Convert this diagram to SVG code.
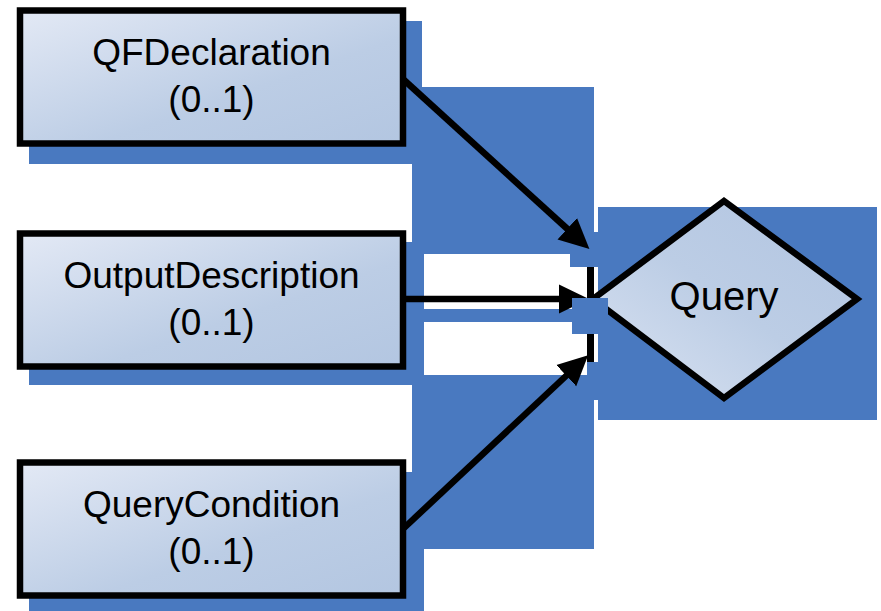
<svg xmlns="http://www.w3.org/2000/svg" width="881" height="611" viewBox="0 0 881 611">
  <defs>
    <linearGradient id="boxFill" x1="0" y1="0" x2="1" y2="1">
      <stop offset="0" stop-color="#e3e9f5"/>
      <stop offset="0.6" stop-color="#bccde5"/>
      <stop offset="1" stop-color="#b3c6e1"/>
    </linearGradient>
    <linearGradient id="diamondFill" x1="0" y1="1" x2="1" y2="0">
      <stop offset="0" stop-color="#dae3f2"/>
      <stop offset="0.5" stop-color="#bccde5"/>
      <stop offset="1" stop-color="#b2c5e1"/>
    </linearGradient>
    <marker id="arrow" markerUnits="userSpaceOnUse" markerWidth="32" markerHeight="32" viewBox="0 -16 32 32" refX="1" refY="0" orient="auto">
      <path d="M0,-14.5 L30,0 L0,14.5 z" fill="#000"/>
    </marker>
  </defs>
  <style>
    .shadow { fill: #4979c0; }
    .gap { fill: #ffffff; }
    .box { fill: url(#boxFill); stroke: #000; stroke-width: 6.5; }
    .diamond { fill: url(#diamondFill); stroke: #000; stroke-width: 6.5; stroke-linejoin: miter; }
    .label { font-family: "Liberation Sans", Arial, sans-serif; font-size: 37px; fill: #000; text-anchor: middle; }
    .title { font-family: "Liberation Sans", Arial, sans-serif; font-size: 40px; fill: #000; text-anchor: middle; }
    .edge { stroke: #000; stroke-width: 6.5; fill: none; marker-end: url(#arrow); }
    .bar { fill: #000; }
  </style>

  <rect width="881" height="611" fill="#ffffff"/>

  <!-- drop shadows -->
  <g id="shadows">
    <rect class="shadow" x="29" y="21" width="393" height="143"/>
    <rect class="shadow" x="29" y="242" width="393" height="143"/>
    <rect class="shadow" x="29" y="472" width="393" height="139"/>
    <rect class="shadow" x="412" y="87" width="182" height="462"/>
    <rect class="shadow" x="412" y="87" width="12" height="524"/>
    <rect class="shadow" x="570" y="232" width="28" height="35"/>
    <rect class="shadow" x="590" y="362" width="8" height="38"/>
    <rect class="shadow" x="598" y="207" width="279" height="213"/>
    <!-- open lanes around the middle connector -->
    <rect class="gap" x="424" y="254" width="146" height="13"/>
    <rect class="gap" x="424" y="267" width="163" height="42"/>
    <rect class="gap" x="424" y="322" width="148" height="12"/>
    <rect class="gap" x="424" y="334" width="163" height="41"/>
  </g>

  <g id="qfdeclaration">
    <rect class="box" x="20" y="10.5" width="383" height="133"/>
    <text class="label" x="211.5" y="65">QFDeclaration</text>
    <text class="label" x="211.5" y="112">(0..1)</text>
  </g>

  <g id="outputdescription">
    <rect class="box" x="20" y="233.5" width="383" height="133"/>
    <text class="label" x="211.5" y="288">OutputDescription</text>
    <text class="label" x="211.5" y="335">(0..1)</text>
  </g>

  <g id="querycondition">
    <rect class="box" x="20" y="462.5" width="383" height="133"/>
    <text class="label" x="211.5" y="517">QueryCondition</text>
    <text class="label" x="211.5" y="564">(0..1)</text>
  </g>

  <g id="query">
    <polygon class="diamond" points="593,299 724,201 857,299 724,398"/>
    <text class="title" x="724" y="310">Query</text>
  </g>

  <g id="connectors">
    <line class="edge" x1="404" y1="80" x2="568" y2="229.5"/>
    <line class="edge" x1="406" y1="299" x2="560" y2="299"/>
    <line class="edge" x1="404" y1="528" x2="567" y2="375"/>
    <rect class="bar" x="587" y="267" width="7" height="32"/>
    <rect class="bar" x="587" y="334" width="7" height="28"/>
  </g>

  <!-- shadow patch lying over the diamond's left corner -->
  <rect class="shadow" x="572" y="298" width="36" height="36"/>
</svg>
